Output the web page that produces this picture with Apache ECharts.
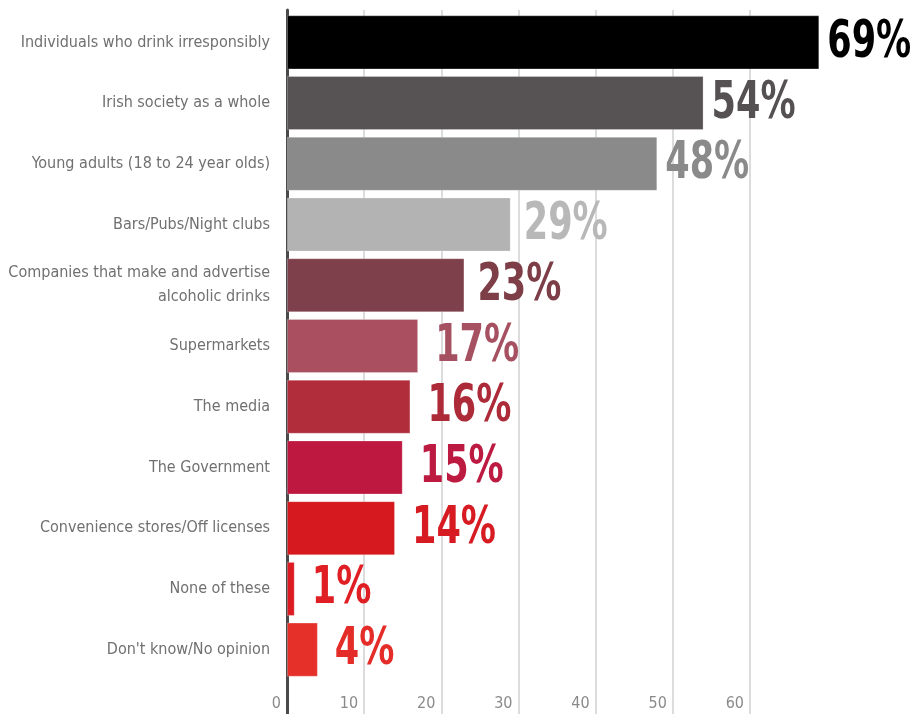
<!DOCTYPE html>
<html>
<head>
<meta charset="utf-8">
<script src="https://cdn.jsdelivr.net/npm/echarts@6/dist/echarts.min.js"></script>
<style>
  html, body { margin: 0; padding: 0; background: #ffffff; }
  #chart { width: 916px; height: 714px; }
</style>
</head>
<body>
<div id="chart"></div>
<script>
// Who is responsible for alcohol misuse (percent of respondents)
const categories = [
  'Individuals who drink irresponsibly',
  'Irish society as a whole',
  'Young adults (18 to 24 year olds)',
  'Bars/Pubs/Night clubs',
  'Companies that make and advertise\nalcoholic drinks',
  'Supermarkets',
  'The media',
  'The Government',
  'Convenience stores/Off licenses',
  'None of these',
  "Don't know/No opinion"
];
const values = [69, 54, 48, 29, 23, 17, 16, 15, 14, 1, 4];
const barColors = [
  '#000000', '#575253', '#8a8a8a', '#b3b3b3', '#7e404a', '#a94f5f',
  '#b12d3b', '#bf1840', '#d5191f', '#dd1b22', '#e5302a'
];
const labelColors = [
  '#000000', '#555051', '#8a8a8a', '#b8b8b8', '#7d3e48', '#a65161',
  '#ad2a39', '#bd1a41', '#d61b23', '#df1f24', '#e42d28'
];
const tickValues = [0, 10, 20, 30, 40, 50, 60];

const narrowFont = "'DejaVu Sans Condensed', 'Liberation Sans Narrow', sans-serif";

const chart = echarts.init(document.getElementById('chart'));

// Value labels: tall, horizontally squeezed bold numerals placed just past each bar end
function renderValueLabel(params, api) {
  const v = api.value(0);
  const p = api.coord([v, api.value(1)]);
  const gap = v >= 40 ? 8 : (v >= 20 ? 13 : 17);
  return {
    type: 'text',
    x: p[0] + gap,
    y: p[1] + 1,
    scaleX: 0.75,
    style: {
      text: v + '%',
      fill: labelColors[params.dataIndex],
      font: "bold 52px 'DejaVu Sans Condensed', sans-serif",
      align: 'left',
      verticalAlign: 'middle'
    }
  };
}

chart.setOption({
  backgroundColor: '#ffffff',
  animation: false,
  grid: [
    // bars
    { left: 287, right: 89, top: 12, bottom: 34 },
    // background grid lines and bottom tick labels
    { left: 287, right: 166, top: 10, bottom: 0 }
  ],
  xAxis: [
    {
      gridIndex: 0, type: 'value', min: 0, max: 70,
      show: false
    },
    {
      gridIndex: 1, type: 'value', min: tickValues[0],
      max: tickValues[tickValues.length - 1], interval: 10,
      axisLine: { show: false },
      axisTick: { show: false },
      splitLine: { show: true, lineStyle: { color: '#dcdcdc', width: 2 } },
      axisLabel: {
        inside: true,
        align: 'right',
        verticalAlign: 'bottom',
        margin: 2,
        padding: [0, 6, 0, 0],
        color: '#8a8a8a',
        fontFamily: narrowFont,
        fontSize: 16
      }
    }
  ],
  yAxis: [
    {
      gridIndex: 0, type: 'category', data: categories, inverse: true,
      axisLine: { show: false },
      axisTick: { show: false },
      axisLabel: {
        margin: 17,
        align: 'right',
        color: '#707070',
        fontFamily: narrowFont,
        fontSize: 16,
        lineHeight: 24
      }
    },
    {
      gridIndex: 1, type: 'value', min: 0, max: 1,
      axisLine: { show: true, lineStyle: { color: '#4a4a4a', width: 3 } },
      axisTick: { show: false },
      axisLabel: { show: false },
      splitLine: { show: false }
    }
  ],
  series: [
    {
      type: 'bar',
      xAxisIndex: 0, yAxisIndex: 0,
      data: values.map((v, i) => ({
        value: v,
        itemStyle: { color: barColors[i] }
      })),
      barCategoryGap: '11%',
      itemStyle: { borderColor: 'rgba(255,255,255,0.25)', borderWidth: 1 },
      z: 3
    },
    {
      type: 'custom',
      xAxisIndex: 0, yAxisIndex: 0,
      data: values.map((v, i) => [v, i]),
      encode: { x: 0, y: 1 },
      renderItem: renderValueLabel,
      z: 4
    }
  ]
});
</script>
</body>
</html>
